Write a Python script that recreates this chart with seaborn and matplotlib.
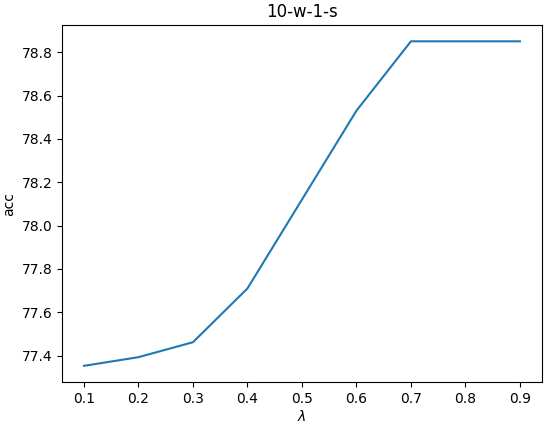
import pandas as pd
import seaborn as sns
from matplotlib import pyplot as plt

lambdas = [0.1, 0.2, 0.3, 0.4, 0.5, 0.6, 0.7, 0.8, 0.9]
acc = [77.353, 77.393, 77.462, 77.71, 78.12, 78.53, 78.85, 78.85, 78.85]

df = pd.DataFrame({"lambda": lambdas, "acc": acc})

fig, ax = plt.subplots(figsize=(5.5, 4.25), dpi=100)
sns.lineplot(data=df, x="lambda", y="acc", color="#1f77b4", ax=ax)
ax.set_title("10-w-1-s")
ax.set_xlabel(r"$\lambda$", labelpad=2)
ax.set_ylabel("acc")
ax.set_xticks(lambdas)
fig.subplots_adjust(left=0.113, right=0.985, top=0.941, bottom=0.101)
plt.savefig("out.png")
